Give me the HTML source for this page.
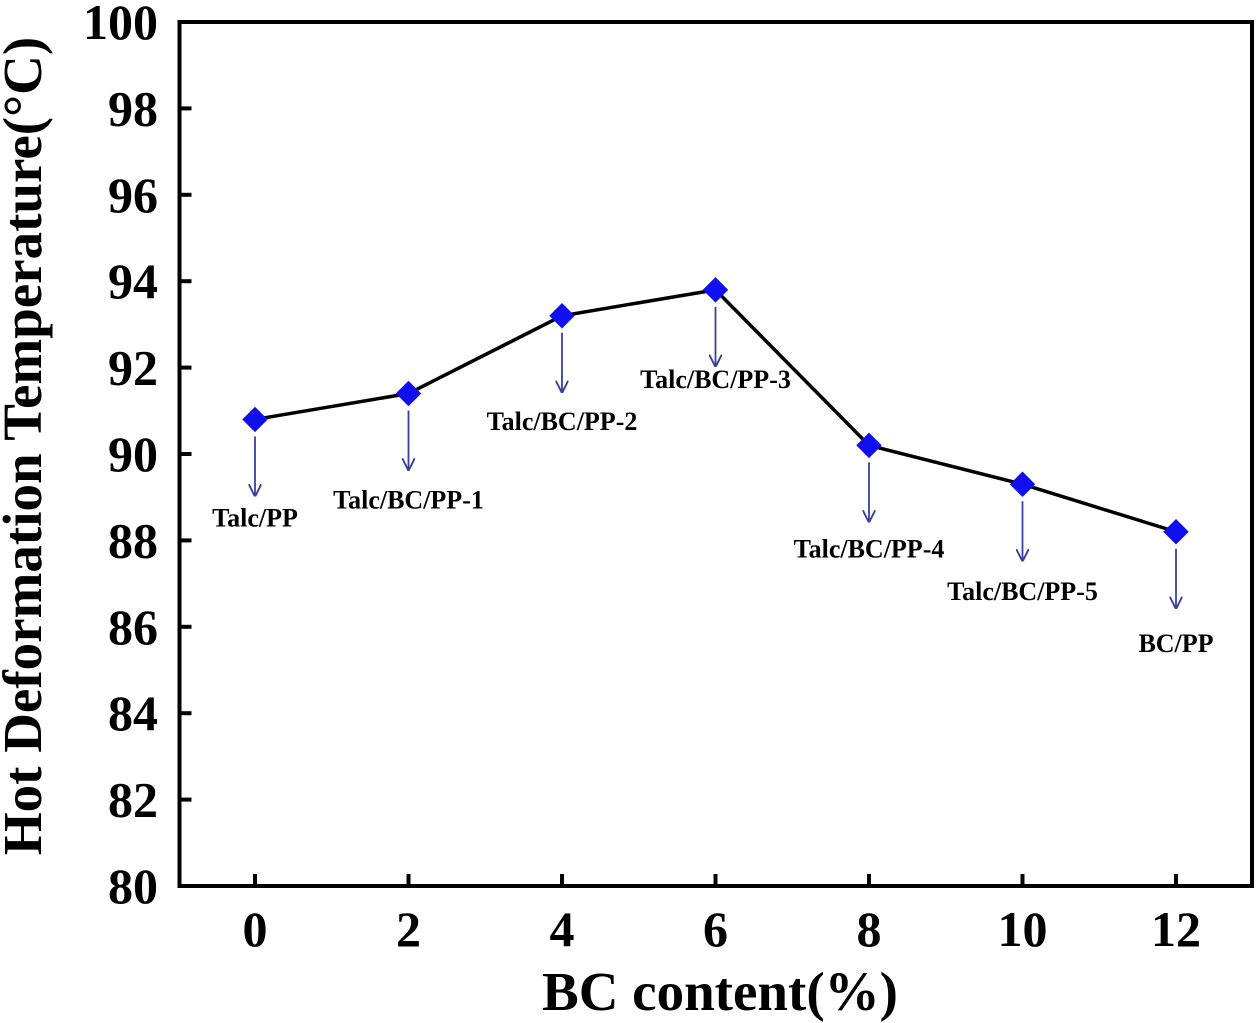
<!DOCTYPE html>
<html><head><meta charset="utf-8"><style>
html,body{margin:0;padding:0;background:#fff;}
svg{display:block;font-family:"Liberation Serif",serif;font-weight:bold;}
</style></head><body>
<svg id="chart" width="1257" height="1023">
<defs><marker id="ah" viewBox="0 0 10 10" refX="9" refY="5" markerWidth="7" markerHeight="7" orient="auto"><path d="M0,0 L10,5 L0,10" fill="none" stroke="#3a3f9a" stroke-width="1.5"/></marker></defs>
<g id="g"></g>
</svg>
<script>
const categories=[0,2,4,6,8,10,12];
const values=[90.8,91.4,93.2,93.8,90.2,89.3,88.2];
const labels=["Talc/PP","Talc/BC/PP-1","Talc/BC/PP-2","Talc/BC/PP-3","Talc/BC/PP-4","Talc/BC/PP-5","BC/PP"];
const labelOffsets=[99,107,106,90,104,108,112];
const yTicks=[80,82,84,86,88,90,92,94,96,98,100];
const xTicks=[0,2,4,6,8,10,12];
const NS="http://www.w3.org/2000/svg";
const g=document.getElementById('g');
const L=179.5,R=1252,T=22,B=886;
const x=v=>255+v*76.75;
const y=v=>B-(v-80)*(B-T)/20;
function mk(t,a,p){const e=document.createElementNS(NS,t);for(const k in a)e.setAttribute(k,a[k]);(p||g).appendChild(e);return e;}
let f=mk('rect',{x:L,y:T,width:R-L,height:B-T,fill:'none',stroke:'#000','stroke-width':4});


yTicks.forEach(v=>{
 let t=mk('line',{x1:L,x2:L+12,y1:y(v),y2:y(v),stroke:'#000','stroke-width':4});
 
 
 let l=mk('text',{x:158,y:y(v)+17,'text-anchor':'end','font-size':50});
 l.textContent=v;
 
 
});
xTicks.forEach(v=>{
 let t=mk('line',{x1:x(v),x2:x(v),y1:B,y2:B-12,stroke:'#000','stroke-width':4});
 
 
 let l=mk('text',{x:x(v),y:946,'text-anchor':'middle','font-size':50});
 l.textContent=v;
 
 
});
let xt=mk('text',{x:720,y:1010,'text-anchor':'middle','font-size':55});
xt.textContent='BC content(%)';


let yt=mk('text',{x:0,y:0,'text-anchor':'middle','font-size':55,transform:'translate(41,446) rotate(-90)'});
yt.textContent='Hot Deformation Temperature(°C)';


let pl=mk('polyline',{points:categories.map((c,i)=>x(c)+','+y(values[i])).join(' '),fill:'none',stroke:'#000','stroke-width':3.5});


categories.forEach((c,i)=>{
 const px=x(c),py=y(values[i]);
 let a=mk('line',{x1:px,x2:px,y1:py+17,y2:py+76,stroke:'#3a3f9a','stroke-width':1.8,'marker-end':'url(#ah)'});
 
 
 let t=mk('text',{x:px,y:py+labelOffsets[i]+8,'text-anchor':'middle','font-size':26});
 t.textContent=labels[i];
 
 
 let d=mk('rect',{x:px-9,y:py-9,width:18,height:18,fill:'#1010ee',transform:`rotate(45 ${px} ${py})`});
 
 
});
</script>
</body></html>
